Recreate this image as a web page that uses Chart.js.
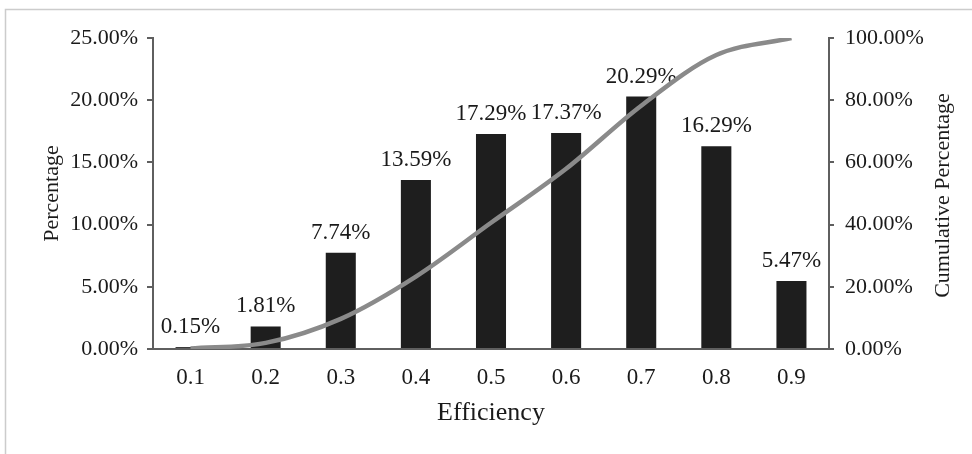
<!DOCTYPE html>
<html>
<head>
<meta charset="utf-8">
<script src="https://cdn.jsdelivr.net/npm/chart.js@4/dist/chart.umd.min.js"></script>
<style>
  html, body { margin: 0; padding: 0; background: #ffffff; }
  #wrap { width: 972px; height: 454px; position: relative; }
</style>
</head>
<body>
<div id="wrap"><canvas id="chart"></canvas></div>
<script>
// Efficiency classes and their share of units
const categories = ['0.1', '0.2', '0.3', '0.4', '0.5', '0.6', '0.7', '0.8', '0.9'];
const percentage = [0.15, 1.81, 7.74, 13.59, 17.29, 17.37, 20.29, 16.29, 5.47];
const cumulativePercentage = [0.15, 1.96, 9.70, 23.29, 40.58, 57.95, 78.24, 94.53, 100.00];

// Axis tick values
const leftTicks = [0, 5, 10, 15, 20, 25];
const rightTicks = [0, 20, 40, 60, 80, 100];

const FONT = '"Liberation Serif", "Times New Roman", serif';
const TEXT = '#1a1a1a';
const AXIS = '#5f5f5f';

const pct = v => Number(v).toFixed(2) + '%';

// White background and thin frame on the top and left edges
const framePlugin = {
  id: 'frame',
  beforeDraw(chart) {
    const ctx = chart.ctx;
    ctx.save();
    ctx.fillStyle = '#ffffff';
    ctx.fillRect(0, 0, chart.width, chart.height);
    ctx.strokeStyle = '#cccccc';
    ctx.lineWidth = 1.5;
    ctx.beginPath();
    ctx.moveTo(5.5, chart.height);
    ctx.lineTo(5.5, 9.5);
    ctx.lineTo(chart.width, 9.5);
    ctx.stroke();
    ctx.restore();
  }
};

// Value labels above the bars (drawn before the cumulative line)
const barLabelPlugin = {
  id: 'barLabels',
  afterDatasetDraw(chart, args) {
    if (args.meta.type !== 'bar') return;
    const ctx = chart.ctx;
    const values = chart.data.datasets[args.index].data;
    ctx.save();
    ctx.font = '23px ' + FONT;
    ctx.fillStyle = TEXT;
    ctx.textAlign = 'center';
    ctx.textBaseline = 'alphabetic';
    args.meta.data.forEach((bar, i) => {
      ctx.fillText(pct(values[i]), bar.x, bar.y - 14);
    });
    ctx.restore();
  }
};

// Title of the right-hand axis, reading bottom to top
const rightTitlePlugin = {
  id: 'rightTitle',
  afterDraw(chart) {
    const s = chart.scales.y1;
    const ctx = chart.ctx;
    ctx.save();
    ctx.translate(943, (s.top + s.bottom) / 2 + 2);
    ctx.rotate(-Math.PI / 2);
    ctx.font = '22px ' + FONT;
    ctx.fillStyle = TEXT;
    ctx.textAlign = 'center';
    ctx.textBaseline = 'middle';
    ctx.fillText('Cumulative Percentage', 0, 0);
    ctx.restore();
  }
};

new Chart(document.getElementById('chart'), {
  data: {
    labels: categories,
    datasets: [
      {
        type: 'line',
        label: 'Cumulative Percentage',
        data: cumulativePercentage,
        yAxisID: 'y1',
        borderColor: '#8a8a8a',
        borderWidth: 4.5,
        pointRadius: 0,
        cubicInterpolationMode: 'monotone',
        fill: false,
        order: 0
      },
      {
        type: 'bar',
        label: 'Percentage',
        data: percentage,
        yAxisID: 'y',
        backgroundColor: '#1e1e1e',
        borderColor: '#1e1e1e',
        borderWidth: 0,
        barPercentage: 0.4,
        categoryPercentage: 1.0,
        order: 1
      }
    ]
  },
  options: {
    responsive: true,
    maintainAspectRatio: false,
    animation: false,
    devicePixelRatio: 1,
    layout: { padding: { top: 38, left: 0, right: 0, bottom: 0 } },
    plugins: {
      legend: { display: false },
      tooltip: { enabled: false }
    },
    scales: {
      x: {
        type: 'category',
        offset: true,
        grid: { display: false },
        border: { display: true, color: AXIS, width: 2 },
        ticks: { font: { family: FONT, size: 23 }, color: TEXT, padding: 7, maxRotation: 0 },
        title: {
          display: true, text: 'Efficiency', color: TEXT,
          font: { family: FONT, size: 26 }, padding: { top: 0, bottom: 25 }
        },
        afterFit(scale) { scale.height = 105; }
      },
      y: {
        position: 'left',
        min: 0, max: 25,
        afterBuildTicks(scale) { scale.ticks = leftTicks.map(v => ({ value: v })); },
        ticks: { callback: v => pct(v), font: { family: FONT, size: 22 }, color: TEXT, padding: 9 },
        grid: { drawOnChartArea: false, drawTicks: true, tickLength: 6, color: AXIS, lineWidth: 2 },
        border: { display: true, color: AXIS, width: 2 },
        title: {
          display: true, text: 'Percentage', color: TEXT,
          font: { family: FONT, size: 22 }, padding: { top: 39, bottom: 0 }
        },
        afterFit(scale) { scale.width = 153; }
      },
      y1: {
        position: 'right',
        min: 0, max: 100,
        afterBuildTicks(scale) { scale.ticks = rightTicks.map(v => ({ value: v })); },
        ticks: { callback: v => pct(v), font: { family: FONT, size: 22 }, color: TEXT, padding: 11 },
        grid: { drawOnChartArea: false, drawTicks: true, tickLength: 5, color: AXIS, lineWidth: 2 },
        border: { display: true, color: AXIS, width: 2 },
        afterFit(scale) { scale.width = 143; }
      }
    }
  },
  plugins: [framePlugin, barLabelPlugin, rightTitlePlugin]
});
</script>
</body>
</html>
